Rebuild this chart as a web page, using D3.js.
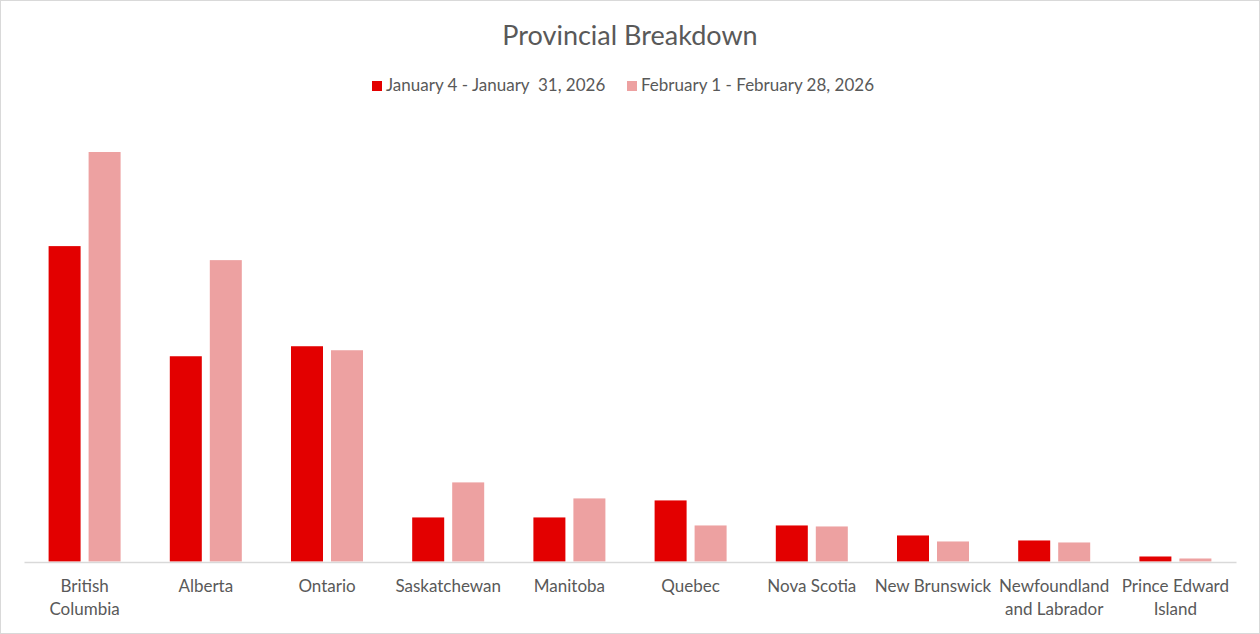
<!DOCTYPE html>
<html>
<head>
<meta charset="utf-8">
<script src="https://cdn.jsdelivr.net/npm/d3@7"></script>
<style>
  body { margin: 0; background: #fff; }
  svg { display: block; }
</style>
</head>
<body>
<div id="chart"></div>
<script>
// data (arbitrary units, no value axis shown)
const provinces = ["British Columbia", "Alberta", "Ontario", "Saskatchewan", "Manitoba",
  "Quebec", "Nova Scotia", "New Brunswick", "Newfoundland and Labrador", "Prince Edward Island"];
const seriesNames = ["January 4 - January  31, 2026", "February 1 - February 28, 2026"];
const janValues = [315, 205, 215, 44, 44, 61, 36, 26, 21, 5];
const febValues = [409, 301, 211, 79, 63, 36, 35, 20, 19, 3];
// label line breaks as in the original
const labelLines = [["British", "Columbia"], ["Alberta"], ["Ontario"], ["Saskatchewan"], ["Manitoba"],
  ["Quebec"], ["Nova Scotia"], ["New Brunswick"], ["Newfoundland", "and Labrador"], ["Prince Edward", "Island"]];
const colors = ["#e30000", "#eda1a1"];

const W = 1260, H = 634;
const margin = {top: 152, right: 24, bottom: 72, left: 24};
const font = "Lato, 'Open Sans', sans-serif";
const textColor = "#595959";

const svg = d3.select("#chart").append("svg")
  .attr("width", W)
  .attr("height", H);

// outer border
svg.append("rect")
  .attr("x", 0.5).attr("y", 0.5)
  .attr("width", W - 1).attr("height", H - 1)
  .attr("fill", "#fff")
  .attr("stroke", "#d9d9d9");

// title
svg.append("text")
  .attr("x", W / 2)
  .attr("y", 45)
  .attr("text-anchor", "middle")
  .attr("font-family", font)
  .attr("font-size", 27)
  .attr("fill", textColor)
  .text("Provincial Breakdown");

const data = provinces.map((p, i) => ({name: p, lines: labelLines[i], values: [janValues[i], febValues[i]]}));

// scales
const x0 = d3.scaleBand()
  .domain(provinces)
  .range([margin.left, W - margin.right])
  .padding(0);

const x1 = d3.scaleBand()
  .domain([0, 1])
  .range([0, x0.bandwidth()])
  .paddingInner(0.2)
  .paddingOuter(0.615);

const y = d3.scaleLinear()
  .domain([0, d3.max(febValues)])
  .range([H - margin.bottom - 0.5, margin.top]);

// bars
const groups = svg.selectAll("g.prov")
  .data(data)
  .enter()
  .append("g")
    .attr("class", "prov")
    .attr("transform", d => `translate(${x0(d.name)},0)`);

groups.selectAll("rect")
  .data(d => d.values.map((v, k) => ({k: k, v: v})))
  .enter()
  .append("rect")
    .attr("x", d => x1(d.k))
    .attr("y", d => y(d.v))
    .attr("width", x1.bandwidth())
    .attr("height", d => y(0) - y(d.v))
    .attr("fill", d => colors[d.k]);

// category axis
const xAxis = svg.append("g")
  .attr("transform", `translate(0, ${y(0) + 0.5})`)
  .call(d3.axisBottom(x0).tickSize(0).tickFormat(""));
xAxis.select(".domain")
  .attr("stroke", "#d9d9d9")
  .attr("stroke-width", 1.5);

// category labels (may wrap onto two lines)
const labels = svg.selectAll("text.cat")
  .data(data)
  .enter()
  .append("text")
    .attr("class", "cat")
    .attr("text-anchor", "middle")
    .attr("font-family", font)
    .attr("font-size", 17)
    .attr("fill", textColor)
    .attr("transform", d => `translate(${x0(d.name) + x0.bandwidth() / 2}, ${y(0) + 30})`);

labels.selectAll("tspan")
  .data(d => d.lines)
  .enter()
  .append("tspan")
    .attr("x", 0)
    .attr("dy", (d, i) => i === 0 ? 0 : 23)
    .text(d => d);

// legend
const legendX = [372, 627];
const legend = svg.selectAll("g.legend")
  .data(seriesNames)
  .enter()
  .append("g")
    .attr("class", "legend")
    .attr("transform", (d, i) => `translate(${legendX[i]}, 81)`);

legend.append("rect")
  .attr("width", 10)
  .attr("height", 10)
  .attr("fill", (d, i) => colors[i]);

legend.append("text")
  .attr("x", 14)
  .attr("y", 10)
  .attr("font-family", font)
  .attr("font-size", 17)
  .attr("fill", textColor)
  .attr("xml:space", "preserve")
  .style("white-space", "pre")
  .text(d => d);
</script>
</body>
</html>
